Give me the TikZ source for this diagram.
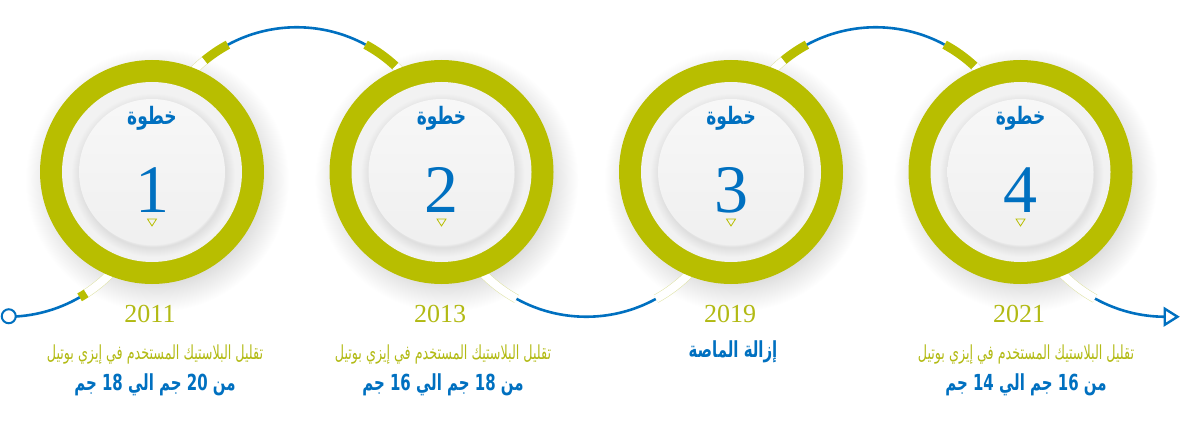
\documentclass[tikz,border=0pt]{standalone}
\usepackage{fontspec}
\usepackage{graphicx}
\setmainfont{Liberation Serif}
\newfontfamily\arabicfont[Script=Arabic]{DejaVu Sans}
\TeXXeTstate=1
\usetikzlibrary{calc,arrows.meta}
\definecolor{ringgreen}{RGB}{184,190,0}
\definecolor{textgreen}{RGB}{178,186,20}
\definecolor{stepblue}{RGB}{0,112,192}
\definecolor{bandgreen}{RGB}{222,226,160}
\definecolor{discgray}{RGB}{242,242,242}
\pgfdeclareradialshading{outershadow}{\pgfpoint{0bp}{0bp}}{color(0bp)=(black!15); color(19bp)=(black!14); color(21bp)=(black!9); color(25bp)=(white); color(50bp)=(white)}
\pgfdeclareradialshading{innershadow}{\pgfpoint{0bp}{0bp}}{color(0bp)=(discgray); color(21bp)=(discgray); color(22bp)=(black!13); color(25bp)=(discgray); color(50bp)=(discgray)}
\newcommand{\arcpart}[4]{\draw[#4] ($(#1)+(#2:144.75)$) arc[start angle=#2, end angle=#3, radius=144.75];}
\newcommand{\narrowtxt}[3]{\scalebox{#1}[#2]{#3}}
\tikzset{
  bandline/.style={draw=bandgreen, line width=0.5pt, double=white, double distance=8pt},
  greenseg/.style={draw=ringgreen, line width=9pt},
  blueline/.style={draw=stepblue, line width=2.6pt},
  arrowhead/.style={draw=stepblue, line width=2.4pt, fill=white, line join=miter},
  steptitle/.style={text=stepblue, font=\arabicfont\bfseries\fontsize{20}{22}\selectfont, inner sep=0pt},
  stepnum/.style={text=stepblue, font=\fontsize{68}{72}\selectfont, inner sep=0pt, anchor=base},
  stepyear/.style={text=textgreen, font=\fontsize{26}{30}\selectfont, inner sep=0pt, anchor=base},
  stepdesc/.style={text=textgreen, font=\arabicfont\fontsize{15.5}{18}\selectfont, inner sep=0pt},
  steprange/.style={text=stepblue, font=\arabicfont\bfseries\fontsize{17}{20}\selectfont, inner sep=0pt},
  startdot/.style={circle, draw=stepblue, line width=2pt, fill=white, minimum size=14pt, inner sep=0pt},
}
\begin{document}
\begin{tikzpicture}[x=1pt,y=1pt]
\useasboundingbox (0,0) rectangle (1180,424);
\coordinate (c1) at (152,252);
\coordinate (c2) at (441.5,252);
\coordinate (c3) at (731,252);
\coordinate (c4) at (1020.5,252);
\coordinate (m0) at (7.25,252);
\coordinate (m12) at (296.75,252);
\coordinate (m23) at (586.25,252);
\coordinate (m34) at (875.75,252);
\coordinate (m5) at (1165.25,252);
% shadows
\foreach \c in {c1,c2,c3,c4}
  \shade[shading=outershadow] ($(\c)+(5,-8)$) circle[radius=132];
% top arcs
\foreach \m in {m12,m34}{
  \arcpart{\m}{136}{129.5}{bandline}
  \arcpart{\m}{129.5}{118.4}{greenseg}
  \arcpart{\m}{118.4}{61.6}{blueline}
  \arcpart{\m}{61.6}{47}{greenseg}
  \arcpart{\m}{47}{44}{bandline}
}
% bottom arc
\arcpart{m23}{224}{241.2}{bandline}
\arcpart{m23}{241.2}{298.8}{blueline}
\arcpart{m23}{298.8}{316}{bandline}
% start
\arcpart{m0}{-44}{-57}{bandline}
\arcpart{m0}{-57}{-60}{greenseg}
\arcpart{m0}{-60}{-90}{blueline}
\node[startdot] (s) at ($(m0)+(-90:144.75)+(1.5,0.5)$) {};
% end
\arcpart{m5}{224}{241}{bandline}
\arcpart{m5}{241}{270}{blueline}
\coordinate (e) at ($(m5)+(270:144.75)$);
\coordinate (tip) at (1177.5,107.25);
\draw[arrowhead] ($(e)+(-0.5,8)$) -- (tip) -- ($(e)+(-0.5,-8)$) -- cycle;
% rings
\foreach \c in {c1,c2,c3,c4}{
  \fill[ringgreen] (\c) circle[radius=112];
  \fill[discgray] (\c) circle[radius=90];
  \shade[shading=innershadow] ($(\c)+(1,-3)$) circle[radius=82];
  \shade[top color=black!3, bottom color=black!6] (\c) circle[radius=73];
  \draw[ringgreen, line width=0.8pt] ($(\c)+(-4.5,205)-(0,252)$) -- ($(\c)+(4.5,205)-(0,252)$) -- ($(\c)+(0,198)-(0,252)$) -- cycle;
}
% titles
\foreach \c/\n in {c1/1,c2/2,c3/3,c4/4}{
  \node[steptitle] (t\n) at ($(\c)+(0,54)$) {\narrowtxt{0.85}{1.2}{\beginR خطوة\endR}};
  \node[stepnum] (n\n) at ($(\c)+(0,-40)$) {\n};
}
\node[stepyear] (y1) at (150,102) {2011};
\node[stepyear] (y2) at (440,102) {2013};
\node[stepyear] (y3) at (730,102) {2019};
\node[stepyear] (y4) at (1019,102) {2021};
\node[stepdesc] (d1) at (155,69) {\narrowtxt{0.82}{1.25}{\beginR تقليل البلاستيك المستخدم في إيزي بوتيل\endR}};
\node[steprange] (r1) at (155,39) {\narrowtxt{0.88}{1.3}{\beginR من \beginL20\endL{} جم الي \beginL18\endL{} جم\endR}};
\node[stepdesc] (d2) at (443,69) {\narrowtxt{0.82}{1.25}{\beginR تقليل البلاستيك المستخدم في إيزي بوتيل\endR}};
\node[steprange] (r2) at (443,39) {\narrowtxt{0.88}{1.3}{\beginR من \beginL18\endL{} جم الي \beginL16\endL{} جم\endR}};
\node[steprange] (d3) at (733,72) {\narrowtxt{0.88}{1.3}{\beginR إزالة الماصة\endR}};
\node[stepdesc] (d4) at (1026,69) {\narrowtxt{0.82}{1.25}{\beginR تقليل البلاستيك المستخدم في إيزي بوتيل\endR}};
\node[steprange] (r4) at (1026,39) {\narrowtxt{0.88}{1.3}{\beginR من \beginL16\endL{} جم الي \beginL14\endL{} جم\endR}};
\end{tikzpicture}
\end{document}
